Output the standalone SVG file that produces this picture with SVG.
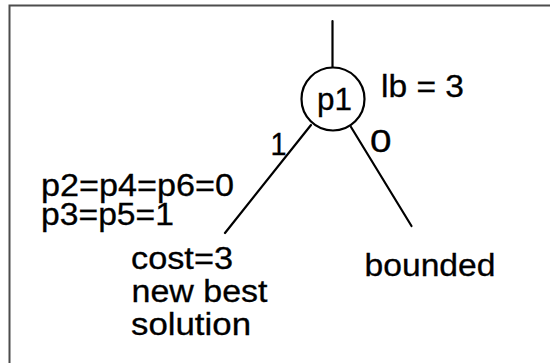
<svg xmlns="http://www.w3.org/2000/svg" width="550" height="363" viewBox="0 0 550 363">
  <style>
    .frame { fill: none; stroke: #4d4d4d; stroke-width: 2; }
    .edge { fill: none; stroke: #000; stroke-width: 2.2; stroke-linecap: round; }
    .node { fill: #fff; stroke: #000; stroke-width: 2.2; }
    text { font-family: "Liberation Sans", Arial, sans-serif; font-size: 31px; fill: #000; stroke: #000; stroke-width: 0.3; }
  </style>
  <rect x="0" y="0" width="550" height="363" fill="#fff"/>
  <path class="frame" d="M 9.5 363 L 9.5 5.5 L 550 5.5"/>
  <g id="connectors">
    <line class="edge" x1="332.5" y1="21" x2="332.5" y2="67.5"/>
    <line class="edge" x1="311" y1="125" x2="225" y2="233"/>
    <line class="edge" x1="351" y1="127" x2="411.5" y2="226"/>
    <text x="270.5" y="155" textLength="16" lengthAdjust="spacingAndGlyphs">1</text>
    <text x="370" y="152" textLength="21.5" lengthAdjust="spacingAndGlyphs">0</text>
  </g>
  <g id="p1">
    <circle class="node" cx="333" cy="99" r="31.5"/>
    <text x="317" y="109.5" textLength="35" lengthAdjust="spacingAndGlyphs">p1</text>
  </g>
  <g id="lb">
    <text x="381" y="97" textLength="83" lengthAdjust="spacingAndGlyphs">lb = 3</text>
  </g>
  <g id="assign">
    <text x="41" y="196" textLength="193" lengthAdjust="spacingAndGlyphs">p2=p4=p6=0</text>
    <text x="41" y="224.5" textLength="133" lengthAdjust="spacingAndGlyphs">p3=p5=1</text>
  </g>
  <g id="leaf1">
    <text x="131" y="269" textLength="102" lengthAdjust="spacingAndGlyphs">cost=3</text>
    <text x="131.5" y="302" textLength="136" lengthAdjust="spacingAndGlyphs">new best</text>
    <text x="131" y="335" textLength="120" lengthAdjust="spacingAndGlyphs">solution</text>
  </g>
  <g id="bounded">
    <text x="364.5" y="276" textLength="131" lengthAdjust="spacingAndGlyphs">bounded</text>
  </g>
</svg>
